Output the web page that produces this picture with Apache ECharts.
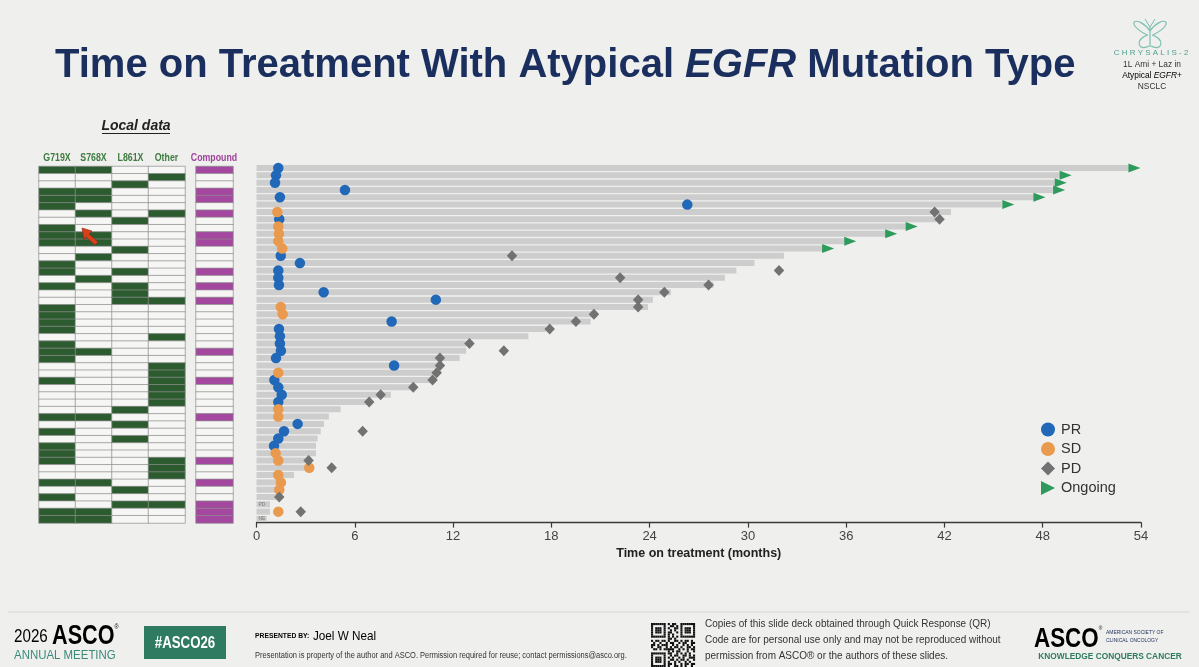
<!DOCTYPE html>
<html>
<head>
<meta charset="utf-8">
<script src="https://cdn.jsdelivr.net/npm/echarts@6.0.0/dist/echarts.min.js"></script>
<style>
html, body { margin: 0; padding: 0; background: #efefed; }
#main { width: 1199px; height: 667px; }
</style>
</head>
<body>
<div id="main"></div>
<script>
// one row per patient, top -> bottom
const duration = [53.4, 49.1, 48.8, 48.7, 47.6, 45.5, 42.4, 41.5, 39.7, 38.5, 35.9, 34.6, 32.2, 30.4, 29.3, 28.6, 27.9,
    25.3, 24.2, 23.9, 20.8, 20.4, 17.7, 16.6, 12.8, 12.8, 12.4, 11.0, 10.8, 10.6, 9.45, 8.2, 6.72, 5.14, 4.42, 4.12,
    3.92, 3.73, 3.63, 3.63, 3.06, 2.96, 2.29, 1.23, 1.23, 1.23, 0.82, 0.82, 0.62];
// best response and when it was seen
const bestResp = ['PR', 'PR', 'PR', 'PR', 'PR', 'PR', 'SD', 'PR', 'SD', 'SD', 'SD', 'SD', 'PR', 'PR', 'PR', 'PR', 'PR',
    'PR', 'PR', 'SD', 'SD', 'PR', 'PR', 'PR', 'PR', 'PR', 'PR', 'PR', 'SD', 'PR', 'PR', 'PR', 'PR', 'SD', 'SD', 'PR',
    'PR', 'PR', 'PR', 'SD', 'SD', 'SD', 'SD', 'SD', 'SD', '', 'PD', 'SD', 'NE'];
const respTime = [1.33, 1.19, 1.13, 5.4, 1.43, 26.3, 1.27, 1.39, 1.33, 1.37, 1.33, 1.57, 1.48, 2.65, 1.33, 1.33, 1.37,
    4.1, 10.95, 1.48, 1.6, 8.25, 1.37, 1.43, 1.43, 1.49, 1.19, 8.4, 1.33, 1.09, 1.33, 1.54, 1.33, 1.33, 1.33, 2.51,
    1.68, 1.33, 1.07, 1.17, 1.33, 3.22, 1.33, 1.49, 1.39, null, null, 1.33, null];
// progression (PD diamond)
const pdTime = [null, null, null, null, null, null, 41.4, 41.7, null, null, null, null, 15.6, null, 31.9, 22.2, 27.6,
    24.9, 23.3, 23.3, 20.6, 19.5, 17.9, null, 13.0, 15.1, 11.2, 11.2, 11.0, 10.75, 9.57, 7.58, 6.88, null, null, null,
    6.48, null, null, null, 3.18, 4.59, null, null, null, 1.39, null, 2.7, null];
// still on treatment (triangle)
const ongoingTime = [53.6, 49.4, 49.1, 49.0, 47.8, 45.9, null, null, 40.0, 38.75, 36.25, 34.9];
const xTicks = [0, 6, 12, 18, 24, 30, 36, 42, 48, 54];

// local data: mutation type per patient
const mutCols = ['G719X', 'S768X', 'L861X', 'Other'];
const g719x = [1,0,0,1,1,1,0,0,1,1, 1,0,0,1,1,0,1,0,0,1, 1,1,1,0,1,1,1,0,0,1, 0,0,0,0,1,0,1,0,1,1, 1,0,0,1,0,1,0,1,1];
const s768x = [1,0,0,1,1,0,1,0,0,1, 1,0,1,0,0,1,0,0,0,0, 0,0,0,0,0,1,0,0,0,0, 0,0,0,0,1,0,0,0,0,0, 0,0,0,1,0,0,0,1,1];
const l861x = [0,0,1,0,0,0,0,1,0,0, 0,1,0,0,1,0,1,1,1,0, 0,0,0,0,0,0,0,0,0,0, 0,0,0,1,0,1,0,1,0,0, 0,0,0,0,1,0,1,0,0];
const other = [0,1,0,0,0,0,1,0,0,0, 0,0,0,0,0,0,0,0,1,0, 0,0,0,1,0,0,0,1,1,1, 1,1,1,0,0,0,0,0,0,0, 1,1,1,0,0,0,1,0,0];
const compound = [1,0,0,1,1,0,1,0,0,1, 1,0,0,0,1,0,1,0,1,0, 0,0,0,0,0,1,0,0,0,1, 0,0,0,0,1,0,0,0,0,0, 1,0,0,1,0,0,1,1,1];

const fontS = '"Liberation Sans", Arial, sans-serif';
const navy = '#1b2f5e';

const rows = duration.map((d, i) => i);

let mutData = [];
[g719x, s768x, l861x, other].forEach((col, c) => {
    col.forEach((v, r) => mutData.push([c, r, v]));
});
let compData = compound.map((v, r) => [0, r, v ? 2 : 0]);

let prData = [], sdData = [];
bestResp.forEach((r, i) => {
    if (r === 'PR') prData.push([respTime[i], i]);
    if (r === 'SD') sdData.push([respTime[i], i]);
});
let pdData = [];
pdTime.forEach((t, i) => { if (t != null) pdData.push([t, i]); });
let ongoingData = [];
ongoingTime.forEach((t, i) => { if (t != null) ongoingData.push([t, i]); });

// PD / NE rows carry a tiny label on the bar
let barData = duration.map((d, i) => {
    if (bestResp[i] === 'PD' || bestResp[i] === 'NE') {
        return {
            value: d,
            label: { show: true, position: 'insideLeft', distance: 2, formatter: bestResp[i],
                fontSize: 5, color: '#777', fontFamily: fontS }
        };
    }
    return d;
});

const triPath = 'path://M0,0L12,6L0,12Z';

// fake QR pattern (decoration)
const qr = [
    '#######.#.##..#######',
    '#.....#..##.#.#.....#',
    '#.###.#.#..##.#.###.#',
    '#.###.#..#.#..#.###.#',
    '#.###.#.##..#.#.###.#',
    '#.....#.#.#...#.....#',
    '#######.#.#.#.#######',
    '........##.#.........',
    '#.##.##.#..##.#.##.#.',
    '.#..#..#.##..#.##..##',
    '##.#.###..#.#..#.#.#.',
    '#..##..#.#.##.#..##.#',
    '.##.#.#####..#.#.#.##',
    '........#.#.##...#..#',
    '#######.##..#.#.#.#..',
    '#.....#..#.##..##.#.#',
    '#.###.#.#.#..#.#..###',
    '#.###.#..##.#.##.#..#',
    '#.###.#.#..#.#..#.#..',
    '#.....#.##.#..#.##.##',
    '#######.#..##.#.#..#.'
];

// text helper, sx squeezes the glyphs (slide uses a narrow font)
function txt(x, y, text, font, fill, align, sx) {
    return {
        type: 'text', x: x, y: y, scaleX: sx || 1, silent: true,
        style: { text: text, font: font, fill: fill, textAlign: align || 'left', align: align || 'left',
            textVerticalAlign: 'middle', verticalAlign: 'middle' }
    };
}
function curve(x1, y1, cx1, cy1, cx2, cy2, x2, y2) {
    return {
        type: 'bezierCurve', silent: true,
        shape: { x1: x1, y1: y1, cpx1: cx1, cpy1: cy1, cpx2: cx2, cpy2: cy2, x2: x2, y2: y2 },
        style: { fill: 'none', stroke: '#7bbfb0', lineWidth: 1.2 }
    };
}

let graphics = [
    // butterfly logo top right
    curve(1150, 31, 1138, 14, 1122, 22, 1147, 35),
    curve(1150, 31, 1162, 14, 1178, 22, 1153, 35),
    curve(1148, 35, 1134, 39, 1138, 52, 1149, 46),
    curve(1152, 35, 1166, 39, 1162, 52, 1151, 46),
    { type: 'line', silent: true, shape: { x1: 1150, y1: 27, x2: 1150, y2: 47 }, style: { stroke: '#7bbfb0', lineWidth: 1.2 } },
    { type: 'line', silent: true, shape: { x1: 1150, y1: 27, x2: 1145, y2: 19 }, style: { stroke: '#7bbfb0', lineWidth: 1 } },
    { type: 'line', silent: true, shape: { x1: 1150, y1: 27, x2: 1155, y2: 19 }, style: { stroke: '#7bbfb0', lineWidth: 1 } },
    txt(1151, 53, 'C H R Y S A L I S - 2', '8px ' + fontS, '#4d9f8f', 'center'),
    txt(1152, 64, '1L Ami + Laz in', '9.5px ' + fontS, '#333', 'center', 0.88),
    {
        type: 'text', x: 1152, y: 75, scaleX: 0.88, silent: true,
        style: {
            text: '{a|Atypical }{b|EGFR}{a|+}', textAlign: 'center', align: 'center',
            textVerticalAlign: 'middle', verticalAlign: 'middle',
            rich: {
                a: { fontSize: 9.5, fontFamily: fontS, color: '#333' },
                b: { fontSize: 9.5, fontFamily: fontS, color: '#333', fontStyle: 'italic' }
            }
        }
    },
    txt(1152, 86, 'NSCLC', '9.5px ' + fontS, '#333', 'center', 0.88),

    // local data header
    txt(136, 126, 'Local data', 'italic bold 14px ' + fontS, '#222', 'center'),
    { type: 'line', silent: true, shape: { x1: 102, y1: 133.5, x2: 170, y2: 133.5 }, style: { stroke: '#222', lineWidth: 1 } },
    txt(57, 157.5, 'G719X', 'bold 11px ' + fontS, '#3d7b3f', 'center', 0.8),
    txt(93.5, 157.5, 'S768X', 'bold 11px ' + fontS, '#3d7b3f', 'center', 0.8),
    txt(130.5, 157.5, 'L861X', 'bold 11px ' + fontS, '#3d7b3f', 'center', 0.8),
    txt(166.5, 157.5, 'Other', 'bold 11px ' + fontS, '#3d7b3f', 'center', 0.8),
    txt(214, 157.5, 'Compound', 'bold 11px ' + fontS, '#a0449c', 'center', 0.8),

    // laser pointer arrow
    {
        type: 'polygon', silent: true, z: 100,
        shape: { points: [[82, 228], [92, 231], [89, 234], [98, 242], [95, 245], [86, 237], [84, 240]] },
        style: { fill: '#d8401c', stroke: '#8a2a10', lineWidth: 0.6 }
    },

    // footer
    { type: 'line', silent: true, shape: { x1: 8, y1: 612, x2: 1190, y2: 612 }, style: { stroke: '#d6d6d4', lineWidth: 1 } },
    {
        type: 'text', x: 14, y: 637, scaleX: 0.8, silent: true,
        style: {
            text: '{a|2026 }{b|ASCO}{c|®}', textVerticalAlign: 'middle', verticalAlign: 'middle',
            rich: {
                a: { fontSize: 19, fontFamily: fontS, color: '#2f7d6d' },
                b: { fontSize: 27, fontFamily: fontS, fontWeight: 'bold', color: navy },
                c: { fontSize: 7, fontFamily: fontS, color: navy, verticalAlign: 'top' }
            }
        }
    },
    txt(14, 655, 'ANNUAL MEETING', '13px ' + fontS, '#3a8a7a', 'left', 0.88),
    { type: 'rect', silent: true, shape: { x: 144, y: 626, width: 82, height: 33 }, style: { fill: '#2e7b62' } },
    txt(185, 643, '#ASCO26', 'bold 17px ' + fontS, '#ffffff', 'center', 0.78),
    {
        type: 'text', x: 255, y: 636, scaleX: 0.9, silent: true,
        style: {
            text: '{a|PRESENTED BY:  }{b|Joel W Neal}', textVerticalAlign: 'middle', verticalAlign: 'middle',
            rich: {
                a: { fontSize: 7.5, fontFamily: fontS, fontWeight: 'bold', color: navy },
                b: { fontSize: 13, fontFamily: fontS, color: navy }
            }
        }
    },
    txt(255, 656, 'Presentation is property of the author and ASCO. Permission required for reuse; contact permissions@asco.org.', '8.5px ' + fontS, '#333', 'left', 0.88),
    txt(705, 624, 'Copies of this slide deck obtained through Quick Response (QR)', '10.5px ' + fontS, '#333', 'left', 0.95),
    txt(705, 640, 'Code are for personal use only and may not be reproduced without', '10.5px ' + fontS, '#333', 'left', 0.95),
    txt(705, 656, 'permission from ASCO® or the authors of these slides.', '10.5px ' + fontS, '#333', 'left', 0.95),
    {
        type: 'text', x: 1034, y: 639, scaleX: 0.8, silent: true,
        style: {
            text: '{b|ASCO}{c|®}', textVerticalAlign: 'middle', verticalAlign: 'middle',
            rich: {
                b: { fontSize: 28, fontFamily: fontS, fontWeight: 'bold', color: navy },
                c: { fontSize: 6, fontFamily: fontS, color: navy, verticalAlign: 'top' }
            }
        }
    },
    txt(1106, 632, 'AMERICAN SOCIETY OF', '5.5px ' + fontS, navy, 'left', 0.9),
    txt(1106, 640, 'CLINICAL ONCOLOGY', '5.5px ' + fontS, navy, 'left', 0.9),
    txt(1110, 657, 'KNOWLEDGE CONQUERS CANCER', 'bold 8.5px ' + fontS, '#2e7b62', 'center', 0.98)
];

qr.forEach((line, r) => {
    for (let c = 0; c < line.length; c++) {
        if (line[c] === '#') {
            graphics.push({ type: 'rect', silent: true,
                shape: { x: 651 + c * 2.1, y: 623 + r * 2.1, width: 2.1, height: 2.1 }, style: { fill: '#111' } });
        }
    }
});

let myChart = echarts.init(document.getElementById('main'));
let option = {
    backgroundColor: '#efefed',
    animation: false,
    title: {
        text: '{a|Time on Treatment With Atypical }{b|EGFR}{a| Mutation Type}',
        left: 50,
        top: 41,
        textStyle: {
            rich: {
                a: { fontSize: 40, fontWeight: 'bold', color: navy, fontFamily: fontS },
                b: { fontSize: 40, fontWeight: 'bold', fontStyle: 'italic', color: navy, fontFamily: fontS }
            }
        }
    },
    legend: {
        orient: 'vertical',
        left: 1036,
        top: 417,
        itemWidth: 14,
        itemHeight: 14,
        itemGap: 4.5,
        selectedMode: false,
        textStyle: { fontSize: 14.5, color: '#333', fontFamily: fontS, padding: [0, 0, 0, 1] },
        data: [
            { name: 'PR', icon: 'circle' },
            { name: 'SD', icon: 'circle' },
            { name: 'PD', icon: 'diamond' },
            { name: 'Ongoing', icon: triPath }
        ]
    },
    visualMap: {
        type: 'piecewise',
        show: false,
        seriesIndex: [0, 1],
        dimension: 2,
        pieces: [
            { value: 0, color: '#f6f6f4' },
            { value: 1, color: '#2c5b2f' },
            { value: 2, color: '#a3479f' }
        ]
    },
    grid: [
        { left: 39, top: 166.5, width: 146, height: 356.5 },
        { left: 196, top: 166.5, width: 37, height: 356.5 },
        { left: 256.5, top: 164.4, width: 884.5, height: 358.2 }
    ],
    xAxis: [
        { type: 'category', gridIndex: 0, data: mutCols, show: false },
        { type: 'category', gridIndex: 1, data: ['Compound'], show: false },
        {
            type: 'value', gridIndex: 2, min: 0, max: 54, interval: 6,
            splitLine: { show: false },
            axisLine: { show: true, lineStyle: { color: '#3a3a3a', width: 1.3 } },
            axisTick: { show: true, length: 5, lineStyle: { color: '#3a3a3a', width: 1.2 } },
            axisLabel: { fontSize: 13, color: '#444', fontFamily: fontS, margin: 7,
                formatter: v => xTicks.indexOf(v) >= 0 ? String(v) : '' },
            name: 'Time on treatment (months)',
            nameLocation: 'middle',
            nameGap: 22,
            nameTextStyle: { fontSize: 12.5, fontWeight: 'bold', color: '#222', fontFamily: fontS }
        }
    ],
    yAxis: [
        { type: 'category', gridIndex: 0, data: rows, inverse: true, show: false },
        { type: 'category', gridIndex: 1, data: rows, inverse: true, show: false },
        { type: 'category', gridIndex: 2, data: rows, inverse: true, show: false }
    ],
    graphic: graphics,
    series: [
        {
            name: 'mutation', type: 'heatmap', xAxisIndex: 0, yAxisIndex: 0, data: mutData,
            itemStyle: { borderColor: '#8e8e8e', borderWidth: 0.7 }, emphasis: { disabled: true }
        },
        {
            name: 'compound', type: 'heatmap', xAxisIndex: 1, yAxisIndex: 1, data: compData,
            itemStyle: { borderColor: '#8e8e8e', borderWidth: 0.7 }, emphasis: { disabled: true }
        },
        {
            name: 'duration', type: 'bar', xAxisIndex: 2, yAxisIndex: 2, data: barData,
            barWidth: 6, itemStyle: { color: '#cdcdcd' }, silent: true, z: 1
        },
        {
            name: 'PR', type: 'scatter', xAxisIndex: 2, yAxisIndex: 2, data: prData,
            symbol: 'circle', symbolSize: 10.5, itemStyle: { color: '#2268b9', opacity: 1 }, z: 3
        },
        {
            name: 'SD', type: 'scatter', xAxisIndex: 2, yAxisIndex: 2, data: sdData,
            symbol: 'circle', symbolSize: 10.5, itemStyle: { color: '#e99a4e', opacity: 1 }, z: 3
        },
        {
            name: 'PD', type: 'scatter', xAxisIndex: 2, yAxisIndex: 2, data: pdData,
            symbol: 'diamond', symbolSize: [10.5, 11], itemStyle: { color: '#727272', opacity: 1 }, z: 4
        },
        {
            name: 'Ongoing', type: 'scatter', xAxisIndex: 2, yAxisIndex: 2, data: ongoingData,
            symbol: triPath, symbolSize: [12, 9], itemStyle: { color: '#2e9a5c', opacity: 1 }, z: 4
        }
    ]
};
myChart.setOption(option);
</script>
</body>
</html>
